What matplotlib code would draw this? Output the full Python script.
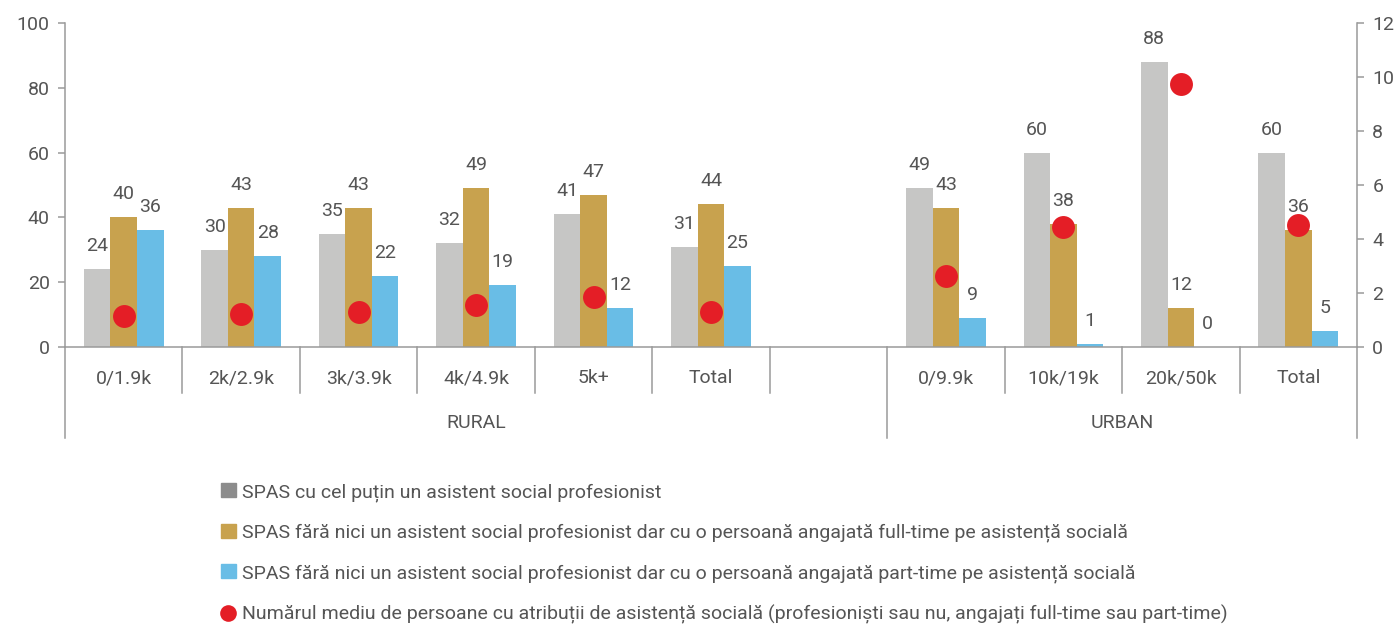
import numpy as np
import matplotlib.pyplot as plt
from matplotlib.patches import Patch
from matplotlib.lines import Line2D
from matplotlib.transforms import blended_transform_factory

plt.rcParams['font.family'] = ['Roboto', 'DejaVu Sans']

categories = ['0/1.9k', '2k/2.9k', '3k/3.9k', '4k/4.9k', '5k+', 'Total', '',
              '0/9.9k', '10k/19k', '20k/50k', 'Total']
groups = ['RURAL', 'URBAN']
cu_asistent = [24, 30, 35, 32, 41, 31, np.nan, 49, 60, 88, 60]
full_time = [40, 43, 43, 49, 47, 44, np.nan, 43, 38, 12, 36]
part_time = [36, 28, 22, 19, 12, 25, np.nan, 9, 1, 0, 5]
nr_mediu = [1.15, 1.22, 1.3, 1.55, 1.85, 1.3, np.nan, 2.63, 4.44, 9.74, 4.52]

legend_labels = [
    'SPAS cu cel puțin un asistent social profesionist',
    'SPAS fără nici un asistent social profesionist dar cu o persoană angajată full-time pe asistență socială',
    'SPAS fără nici un asistent social profesionist dar cu o persoană angajată part-time pe asistență socială',
    'Numărul mediu de persoane cu atribuții de asistență socială (profesioniști sau nu, angajați full-time sau part-time)',
]

c_grey = '#C6C6C5'
c_gold = '#C8A24E'
c_blue = '#69BDE6'
c_red = '#E41E26'
txt = '#555555'
line_c = '#9A9A9A'
fs = 14

fig = plt.figure(figsize=(13.97, 6.25), dpi=100)
ax = fig.add_axes([65 / 1397, 1 - 347 / 625, 1292 / 1397, 324 / 625])
ax2 = ax.twinx()

x = np.arange(len(categories))
w = 0.226
series = [(cu_asistent, c_grey, -w), (full_time, c_gold, 0), (part_time, c_blue, w)]
for vals, col, off in series:
    ax.bar(x + off, vals, width=w, color=col, zorder=2)
    for xi, v in zip(x, vals):
        if np.isnan(v):
            continue
        ax.annotate(f'{v:.0f}', (xi + off, v), xytext=(0, 13), textcoords='offset points',
                    ha='center', va='baseline', fontsize=fs, color=txt)

ax2.plot(x, nr_mediu, 'o', color=c_red, markersize=16.5, markeredgewidth=0, zorder=5)

ax.set_xlim(-0.5, len(categories) - 0.5)
ax.set_ylim(0, 100)
ax2.set_ylim(0, 12)
ax.set_yticks(range(0, 101, 20))
ax2.set_yticks(range(0, 13, 2))
ax.set_xticks([])

for a in (ax, ax2):
    for s in a.spines.values():
        s.set_color(line_c)
        s.set_linewidth(1.1)
    a.spines['top'].set_visible(False)
    a.tick_params(axis='y', colors=line_c, labelcolor=txt, labelsize=fs,
                  length=5, width=1.1, direction='out', pad=6)
ax.spines['right'].set_visible(False)
ax2.spines['left'].set_visible(False)
ax2.spines['bottom'].set_visible(False)

# two-level category axis
tr = blended_transform_factory(ax.transData, ax.transAxes)
bounds = np.arange(len(categories) + 1) - 0.5
for b in bounds:
    long_line = b in (bounds[0], 6.5, bounds[-1])
    ax.plot([b, b], [0, -0.281 if long_line else -0.142], transform=tr,
            color=line_c, lw=1.1, clip_on=False)
for xi, lab in zip(x, categories):
    ax.text(xi, -0.096, lab, transform=tr, ha='center', va='center', fontsize=fs, color=txt)
ax.text(3.0, -0.235, groups[0], transform=tr, ha='center', va='center', fontsize=fs, color=txt)
ax.text(8.5, -0.235, groups[1], transform=tr, ha='center', va='center', fontsize=fs, color=txt)

handles = [
    Patch(color='#8C8C8C'),
    Patch(color=c_gold),
    Patch(color=c_blue),
    Line2D([], [], marker='o', ls='', color=c_red, markersize=12, markeredgewidth=0),
]
fig.legend(handles, legend_labels, loc='upper left', bbox_to_anchor=(221 / 1397, 1 - 483 / 625),
           frameon=False, fontsize=fs, labelcolor=txt, borderpad=0, borderaxespad=0,
           handlelength=0.75, handleheight=0.75, handletextpad=0.35, labelspacing=1.12)

fig.savefig('out.png', dpi=100)
